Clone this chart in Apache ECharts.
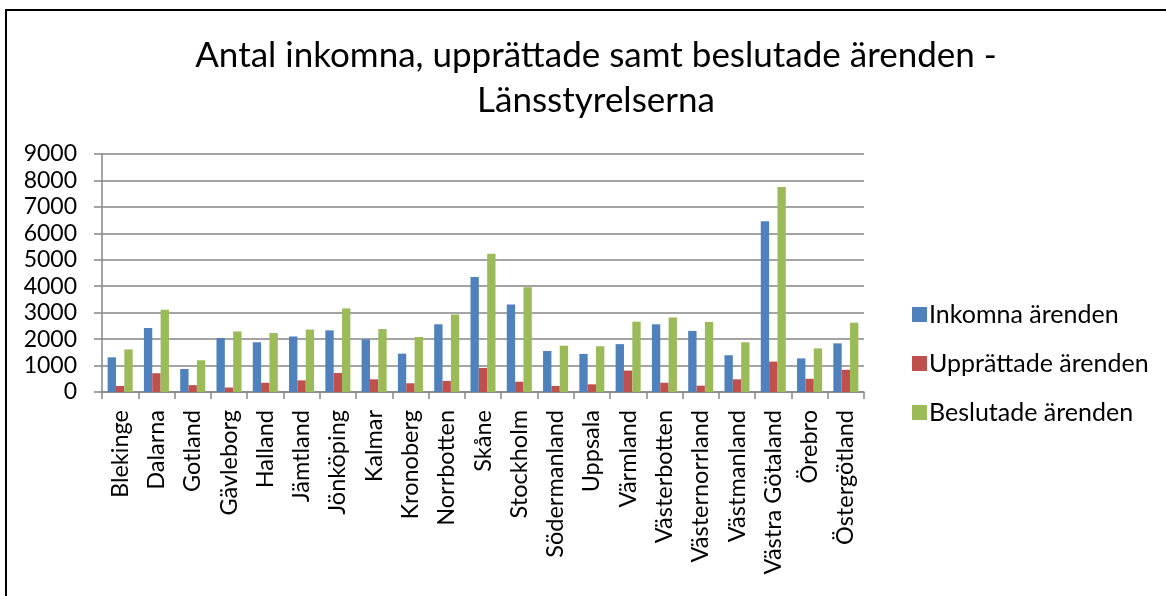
<!DOCTYPE html>
<html>
<head>
<meta charset="utf-8">
<script src="https://cdn.jsdelivr.net/npm/echarts@6/dist/echarts.min.js"></script>
<style>
  html, body { margin: 0; padding: 0; background: #fff; }
  #chart { width: 1166px; height: 596px; }
</style>
</head>
<body>
<div id="chart"></div>
<script>
// data
const categories = ["Blekinge", "Dalarna", "Gotland", "Gävleborg", "Halland", "Jämtland", "Jönköping",
  "Kalmar", "Kronoberg", "Norrbotten", "Skåne", "Stockholm", "Södermanland", "Uppsala",
  "Värmland", "Västerbotten", "Västernorrland", "Västmanland", "Västra Götaland", "Örebro", "Östergötland"];
const inkomna = [1310, 2420, 870, 2040, 1880, 2100, 2330, 1990, 1450, 2560, 4350, 3310, 1550, 1440,
  1810, 2560, 2310, 1390, 6460, 1270, 1840];
const upprattade = [230, 710, 260, 170, 350, 440, 720, 480, 330, 420, 910, 390, 230, 290,
  810, 350, 240, 480, 1150, 500, 840];
const beslutade = [1610, 3110, 1200, 2290, 2230, 2360, 3160, 2380, 2080, 2930, 5230, 3960, 1750, 1730,
  2660, 2820, 2650, 1880, 7750, 1650, 2620];
const seriesNames = ["Inkomna ärenden", "Upprättade ärenden", "Beslutade ärenden"];
const yTicks = { min: 0, max: 9000, interval: 1000 };

const chart = echarts.init(document.getElementById("chart"));
const font = "Lato, 'Open Sans', sans-serif";

const option = {
  animation: false,
  color: ["#4F81BD", "#C0504D", "#9BBB59"],
  title: {
    text: "Antal inkomna, upprättade samt beslutade ärenden -\nLänsstyrelserna",
    left: 591,
    top: 28,
    textAlign: "center",
    textStyle: {
      fontFamily: font,
      fontWeight: "normal",
      fontSize: 35,
      lineHeight: 45,
      color: "#000",
    },
  },
  graphic: [
    {
      type: "rect",
      shape: { x: 6, y: 10, width: 1300, height: 800 },
      style: { fill: "none", stroke: "#000", lineWidth: 2 },
      silent: true,
    },
  ],
  legend: {
    orient: "vertical",
    left: 907,
    top: 297,
    itemWidth: 15,
    itemHeight: 15,
    itemGap: 24,
    icon: "rect",
    data: seriesNames,
    textStyle: { fontFamily: font, fontSize: 25, color: "#000", padding: [0, 0, 0, -3] },
  },
  grid: {
    left: 102,
    top: 154,
    width: 762,
    height: 238,
    containLabel: false,
  },
  xAxis: {
    type: "category",
    data: categories,
    axisLine: { lineStyle: { color: "#868686", width: 1.5 } },
    axisTick: { show: true, length: 7, lineStyle: { color: "#868686", width: 1.5 } },
    axisLabel: {
      rotate: 90,
      interval: 0,
      margin: 18,
      fontFamily: font,
      fontSize: 23.5,
      color: "#000",
    },
  },
  yAxis: {
    type: "value",
    min: yTicks.min,
    max: yTicks.max,
    interval: yTicks.interval,
    axisLine: { show: true, lineStyle: { color: "#868686", width: 1.5 } },
    axisTick: { show: true, length: 8, lineStyle: { color: "#868686", width: 1.5 } },
    splitLine: { show: true, lineStyle: { color: "#868686", width: 1.5 } },
    axisLabel: {
      margin: 25,
      fontFamily: font,
      fontSize: 23,
      color: "#000",
      formatter: (v) => String(v),
    },
  },
  series: [
    { name: seriesNames[0], type: "bar", data: inkomna, barGap: "0%", barCategoryGap: "31%" },
    { name: seriesNames[1], type: "bar", data: upprattade, barGap: "0%", barCategoryGap: "31%" },
    { name: seriesNames[2], type: "bar", data: beslutade, barGap: "0%", barCategoryGap: "31%" },
  ],
};

chart.setOption(option);
</script>
</body>
</html>
